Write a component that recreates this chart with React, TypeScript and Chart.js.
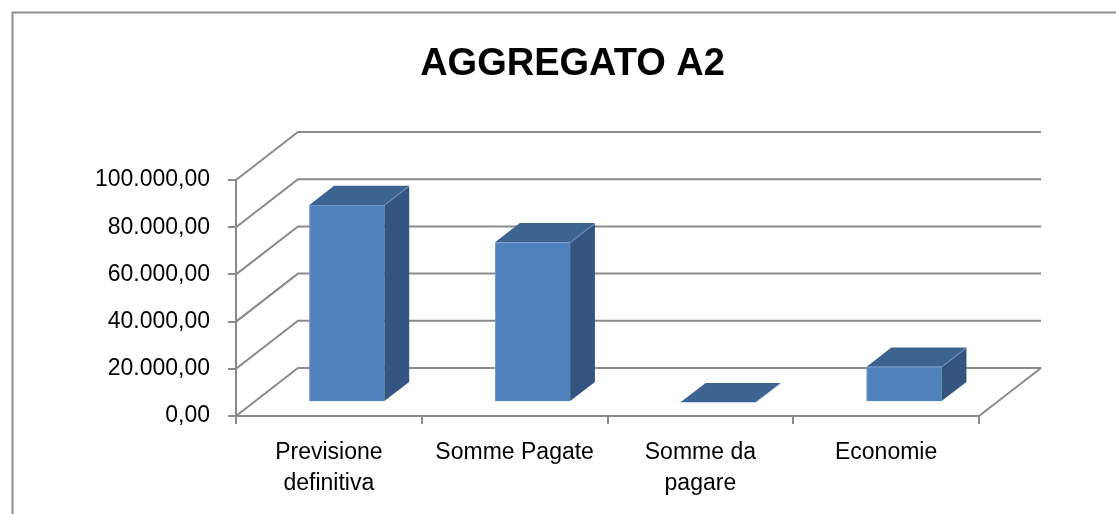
import React, { useEffect, useRef } from "react";
import { Chart, registerables } from "chart.js";

Chart.register(...registerables);

const TITLE = "AGGREGATO A2";
const categories: (string | string[])[] = [
  ["Previsione", "definitiva"],
  "Somme Pagate",
  ["Somme da", "pagare"],
  "Economie",
];
const values = [83500, 67700, 0, 15000];
const yMin = 0;
const yMax = 100000;
const yStep = 20000;

// 3D style constants (projection offsets)
const WALL_DX = 62;
const WALL_DY = -48;
const BAR_FRONT = 0.29; // fraction of depth where bar front sits
const BAR_DEPTH = 0.4; // fraction of depth taken by bar
const GRID_COLOR = "#8a8a8a";
const FRONT_COLOR = "#4f81bd";
const TOP_COLOR = "#3d6390";
const SIDE_COLOR = "#34557f";
const FONT = "'Liberation Sans', Arial, sans-serif";

function fmt(v: number): string {
  const neg = v < 0;
  const a = Math.abs(v);
  const intPart = Math.floor(a);
  const dec = Math.round((a - intPart) * 100);
  const s = String(intPart).replace(/\B(?=(\d{3})+(?!\d))/g, ".");
  return (neg ? "-" : "") + s + "," + String(dec).padStart(2, "0");
}

const threeD = {
  id: "threeD",
  beforeDraw(chart: any) {
    const ctx = chart.ctx;
    ctx.save();
    ctx.strokeStyle = "#8e8e8e";
    ctx.lineWidth = 2;
    ctx.beginPath();
    ctx.moveTo(12.5, 514);
    ctx.lineTo(12.5, 12.5);
    ctx.lineTo(1116, 12.5);
    ctx.stroke();
    ctx.restore();
  },
  beforeDatasetsDraw(chart: any) {
    const ctx = chart.ctx;
    const { left, right } = chart.chartArea;
    const y = chart.scales.y;
    ctx.save();
    ctx.strokeStyle = GRID_COLOR;
    ctx.lineWidth = 2;
    ctx.beginPath();
    for (let v = yMin; v <= yMax + 0.001; v += yStep) {
      const py = y.getPixelForValue(v);
      ctx.moveTo(left, py);
      ctx.lineTo(left + WALL_DX, py + WALL_DY);
      ctx.lineTo(right + WALL_DX, py + WALL_DY);
    }
    const p0 = y.getPixelForValue(yMin);
    ctx.moveTo(right, p0);
    ctx.lineTo(right + WALL_DX, p0 + WALL_DY);
    ctx.stroke();
    ctx.restore();
  },
  afterDatasetsDraw(chart: any) {
    const ctx = chart.ctx;
    const meta = chart.getDatasetMeta(0);
    const fdx = WALL_DX * BAR_FRONT;
    const fdy = WALL_DY * BAR_FRONT;
    const bdx = WALL_DX * BAR_DEPTH;
    const bdy = WALL_DY * BAR_DEPTH;
    ctx.save();
    meta.data.forEach((el: any) => {
      const { x, y, base, width } = el.getProps(["x", "y", "base", "width"], true);
      const x0 = x - width / 2 + fdx;
      const x1 = x + width / 2 + fdx;
      const top = Math.min(y, base) + fdy;
      const bot = Math.max(y, base) + fdy;
      if (bot - top > 0.5) {
        ctx.fillStyle = FRONT_COLOR;
        ctx.fillRect(x0, top, x1 - x0, bot - top);
        ctx.fillStyle = SIDE_COLOR;
        ctx.beginPath();
        ctx.moveTo(x1, top);
        ctx.lineTo(x1 + bdx, top + bdy);
        ctx.lineTo(x1 + bdx, bot + bdy);
        ctx.lineTo(x1, bot);
        ctx.closePath();
        ctx.fill();
      }
      ctx.fillStyle = TOP_COLOR;
      ctx.beginPath();
      ctx.moveTo(x0, top);
      ctx.lineTo(x0 + bdx, top + bdy);
      ctx.lineTo(x1 + bdx, top + bdy);
      ctx.lineTo(x1, top);
      ctx.closePath();
      ctx.fill();
      ctx.strokeStyle = "rgba(140,175,220,0.55)";
      ctx.lineWidth = 1;
      ctx.beginPath();
      ctx.moveTo(x0 + 0.5, bot);
      ctx.lineTo(x0 + 0.5, top + 0.5);
      ctx.lineTo(x1, top + 0.5);
      ctx.lineTo(x1 + bdx, top + bdy + 0.5);
      ctx.stroke();
    });
    ctx.restore();
  },
};

export default function App() {
  const ref = useRef<HTMLCanvasElement | null>(null);
  useEffect(() => {
    if (!ref.current) return;
    const chart = new Chart(ref.current, {
      type: "bar",
      data: {
        labels: categories,
        datasets: [
          {
            data: values,
            backgroundColor: "rgba(0,0,0,0)",
            borderWidth: 0,
            categoryPercentage: 1,
            barPercentage: 0.404,
            yAxisID: "y",
          },
        ],
      },
      options: {
        animation: false,
        responsive: false,
        events: [],
        layout: { padding: { left: 60, right: 31, top: 0, bottom: 0 } },
        plugins: {
          legend: { display: false },
          tooltip: { enabled: false },
          title: {
            display: true,
            text: TITLE,
            color: "#000",
            font: { family: FONT, size: 38, weight: "bold", lineHeight: 1.2 },
            padding: { top: 42.2, bottom: 92.2 },
          },
        },
        scales: {
          x: {
            offset: true,
            grid: {
              display: true,
              offset: true,
              drawOnChartArea: false,
              drawTicks: true,
              tickLength: 8,
              color: GRID_COLOR,
              lineWidth: 2,
            },
            border: { display: true, color: GRID_COLOR, width: 2 },
            ticks: {
              color: "#000",
              maxRotation: 0,
              minRotation: 0,
              autoSkip: false,
              padding: 13,
              font: { family: FONT, size: 23, lineHeight: 1.35 },
            },
            afterFit: (s: any) => {
              s.height = 98;
            },
          },
          y: {
            min: yMin,
            max: yMax,
            position: "left",
            grid: {
              display: true,
              drawOnChartArea: false,
              drawTicks: true,
              tickLength: 8,
              color: GRID_COLOR,
              lineWidth: 2,
            },
            border: { display: true, color: GRID_COLOR, width: 2 },
            ticks: {
              stepSize: yStep,
              color: "#000",
              padding: 18,
              font: { family: FONT, size: 23 },
              callback: (v: any) => fmt(Number(v)),
            },
            afterFit: (s: any) => {
              s.width = 176;
            },
          },
          yRightSpace: {
            type: "linear",
            position: "right",
            display: true,
            min: yMin,
            max: yMax,
            grid: { display: false, drawTicks: false },
            border: { display: false },
            ticks: { display: false },
            afterFit: (s: any) => {
              s.width = 106;
            },
          },
        },
      },
      plugins: [threeD],
    });
    return () => chart.destroy();
  }, []);
  return (
    <div style={{ position: "fixed", left: 0, top: 0, width: 1116, height: 514, background: "#fff" }}>
      <canvas ref={ref} width={1116} height={514} style={{ display: "block" }} />
    </div>
  );
}
